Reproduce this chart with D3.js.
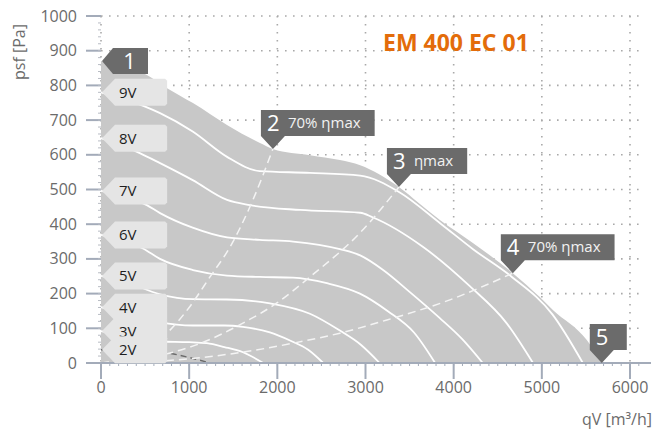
<!DOCTYPE html>
<html>
<head>
<meta charset="utf-8">
<script src="https://cdn.jsdelivr.net/npm/d3@7"></script>
<style>
  html, body { margin: 0; padding: 0; background: #fff; }
  svg { display: block; font-family: "Open Sans", "Noto Sans", sans-serif; }
</style>
</head>
<body>
<svg id="chart" width="653" height="432"></svg>
<script>
// Axis ticks
const xTicks = [0, 1000, 2000, 3000, 4000, 5000, 6000];
const yTicks = [0, 100, 200, 300, 400, 500, 600, 700, 800, 900, 1000];

// Operating envelope (max speed), [qV m³/h, psf Pa]
const envelope = [[0,870],[520,830],[750,792],[1043,749],[1429,686],[1803,634],[1950,617],[2370,599],[2710,585],[2940,570],[3150,545],[3379,507],[3600,462],[3844,412],[4218,346],[4671,259],[4977,190],[5125,153],[5510,66],[5680,0]];

// Fan curves per control voltage
const v9 = [[0,780],[480,741],[670,720],[1040,667],[1430,594],[1800,553],[2370,548],[2940,540],[3380,493],[3860,400],[4220,328],[4660,248],[5120,140],[5465,0]];
const v8 = [[0,648],[440,605],[670,576],[1040,527],[1430,470],[1690,455],[2260,441],[2940,433],[3080,420],[3650,335],[4180,222],[4600,115],[4900,0]];
const v7 = [[0,496],[520,455],[670,432],[1040,390],[1430,362],[1800,355],[2180,350],[2710,328],[2940,310],[3200,268],[3500,205],[3840,130],[4100,68],[4330,0]];
const v6 = [[0,369],[476,330],[669,300],[1043,268],[1429,252],[1800,248],[2177,246],[2562,230],[2937,200],[3250,150],[3550,88],[3790,0]];
const v5 = [[0,251],[300,232],[669,198],[1043,184],[1429,183],[1916,172],[2370,142],[2700,95],[2950,52],[3160,0]];
const v4 = [[0,161],[300,142],[669,117],[1043,108],[1400,108],[1610,104],[1916,88],[2150,64],[2350,38],[2520,0]];
const v3 = [[0,92],[350,74],[669,62],[1000,60],[1200,57],[1400,46],[1610,31],[1840,0]];
const v2 = [[0,38],[400,35],[748,29],[1000,16],[1236,0]];

const curveNames = ["9V", "8V", "7V", "6V", "5V", "4V", "3V", "2V"];
const curveData = [v9, v8, v7, v6, v5, v4, v3, v2];

// System lines through the efficiency points
const sys70Low = [[0,0],[400,25],[748,86],[1000,160],[1236,248],[1463,334],[1723,470],[1950,617]];
const sysEtaMax = [[0,0],[669,22],[1122,56],[1610,115],[1995,173],[2370,248],[2937,375],[3379,507]];
const sys70High = [[0,0],[1000,12],[1600,31],[2177,57],[2710,86],[3243,124],[3957,182],[4671,259]];

// Numbered operating points
const pointIds = ["1", "2", "3", "4", "5"];
const pointQ = [0, 1950, 3379, 4671, 5680];
const pointP = [870, 617, 507, 259, 0];
const pointText = ["", "70% ηmax", "ηmax", "70% ηmax", ""];

const title = "EM 400 EC 01";
const yTitle = "psf [Pa]";
const xTitle = "qV [m³/h]";

const svg = d3.select("#chart");
const x = d3.scaleLinear().domain([0, 6000]).range([101, 630]);
const y = d3.scaleLinear().domain([0, 1000]).range([363, 16]);

const axisColor = "#a3abb9";
const textGray = "#6b6b6b";

// Dotted grid
const grid = svg.append("g");
grid.selectAll("line.h").data(yTicks.filter(d => d > 0)).join("line")
  .attr("x1", x(0)).attr("x2", x(6170))
  .attr("y1", d => y(d)).attr("y2", d => y(d))
  .attr("stroke", "#a9a9a9").attr("stroke-width", 1.6)
  .attr("stroke-dasharray", "1.6,6.4");
grid.selectAll("line.v").data(xTicks).join("line")
  .attr("x1", d => x(d)).attr("x2", d => x(d))
  .attr("y1", y(1000)).attr("y2", y(0))
  .attr("stroke", "#a9a9a9").attr("stroke-width", 1.6)
  .attr("stroke-dasharray", "1.6,6.4");

// Gray operating area
const area = d3.area().x(d => x(d[0])).y0(y(0)).y1(d => y(d[1])).curve(d3.curveMonotoneX);
svg.append("path").datum(envelope).attr("d", area).attr("fill", "#c8c8c8");

const line = d3.line().x(d => x(d[0])).y(d => y(d[1])).curve(d3.curveMonotoneX);

// Speed curves
curveData.forEach((pts, i) => {
  const isLowest = curveNames[i] === "2V";
  svg.append("path").datum(pts).attr("d", line)
    .attr("fill", "none")
    .attr("stroke", isLowest ? "#6a6a6a" : "#ffffff")
    .attr("stroke-width", isLowest ? 1.4 : 1.8)
    .attr("stroke-dasharray", isLowest ? "6,4" : null);
});

// System lines
[sys70Low, sysEtaMax, sys70High].forEach(pts => {
  svg.append("path").datum(pts).attr("d", line)
    .attr("fill", "none").attr("stroke", "#f4f4f4")
    .attr("stroke-width", 1.5).attr("stroke-dasharray", "8,5");
});

// Axes
const axes = svg.append("g");
axes.append("line").attr("x1", x(0)).attr("x2", 651).attr("y1", y(0)).attr("y2", y(0))
  .attr("stroke", axisColor).attr("stroke-width", 2);
axes.selectAll("line.xmaj").data(xTicks).join("line")
  .attr("x1", d => x(d)).attr("x2", d => x(d)).attr("y1", y(0)).attr("y2", y(0) + 16)
  .attr("stroke", axisColor).attr("stroke-width", 2);
axes.selectAll("line.xmin").data(d3.range(100, 6200, 100)).join("line")
  .attr("x1", d => x(d)).attr("x2", d => x(d)).attr("y1", y(0)).attr("y2", y(0) + 3)
  .attr("stroke", axisColor).attr("stroke-width", 1);
axes.selectAll("line.ymaj").data(yTicks).join("line")
  .attr("x1", x(0) - 15).attr("x2", x(0)).attr("y1", d => y(d)).attr("y2", d => y(d))
  .attr("stroke", axisColor).attr("stroke-width", 2);
axes.selectAll("line.ymin").data(d3.range(20, 1000, 20)).join("line")
  .attr("x1", x(0) - 3).attr("x2", x(0)).attr("y1", d => y(d)).attr("y2", d => y(d))
  .attr("stroke", "#b8bcc4").attr("stroke-width", 1);

axes.selectAll("text.xl").data(xTicks).join("text")
  .attr("x", d => x(d)).attr("y", y(0) + 30).attr("text-anchor", "middle")
  .attr("font-size", 16).attr("fill", textGray).text(d => d);
axes.selectAll("text.yl").data(yTicks).join("text")
  .attr("x", x(0) - 24).attr("y", d => y(d) + 5.5).attr("text-anchor", "end")
  .attr("font-size", 16).attr("fill", textGray).text(d => d);

svg.append("text").attr("transform", "translate(25,52) rotate(-90)")
  .attr("text-anchor", "middle").attr("font-size", 16).attr("fill", textGray).text(yTitle);
svg.append("text").attr("x", 652).attr("y", 425).attr("text-anchor", "end")
  .attr("font-size", 16).attr("fill", textGray).text(xTitle);

// Voltage tags at the start of each curve
const tagRight = x(750);
const tagH = 27;
curveData.forEach((pts, i) => {
  const tipX = x(0) + 1, cy = y(pts[0][1]);
  const left = tipX + 13, h2 = tagH / 2;
  const poly = [[tipX, cy], [left, cy - h2], [tagRight - 2, cy - h2], [tagRight, cy - h2 + 2],
                [tagRight, cy + h2 - 2], [tagRight - 2, cy + h2], [left, cy + h2]];
  svg.append("polygon").attr("points", poly.map(p => p.join(",")).join(" ")).attr("fill", "#e5e5e5");
  svg.append("text").attr("x", tipX + 17).attr("y", cy + 5.5)
    .attr("font-size", 15).attr("fill", "#1e1e1e").text(curveNames[i]);
});

// Numbered point markers
const markColor = "#6b6b6b";
pointIds.forEach((id, i) => {
  const tx = x(pointQ[i]), ty = y(pointP[i]);
  const g = svg.append("g");
  if (i === 0) {
    // left-pointing tag at the top of the pressure axis
    const tipX = tx + 1, left = tipX + 11, right = 148, h2 = 13;
    const poly = [[tipX, ty], [left, ty - h2], [right, ty - h2], [right, ty + h2], [left, ty + h2]];
    g.append("polygon").attr("points", poly.map(p => p.join(",")).join(" ")).attr("fill", markColor);
    g.append("text").attr("x", (left + right) / 2 - 1).attr("y", ty + 8).attr("text-anchor", "middle")
      .attr("font-size", 22).attr("fill", "#ffffff").text(id);
    return;
  }
  const left = tx - 12, bottom = ty - 13, top = bottom - 26;
  const num = g.append("text").attr("x", left + 6).attr("y", bottom - 5)
    .attr("font-size", 22).attr("fill", "#ffffff").text(id);
  let textEnd = left + 6 + num.node().getComputedTextLength();
  if (pointText[i]) {
    const t = g.append("text").attr("x", left + 27).attr("y", bottom - 8)
      .attr("font-size", 15).attr("fill", "#f2f2f2").text(pointText[i]);
    textEnd = left + 27 + t.node().getComputedTextLength();
  }
  const right = Math.max(left + 37, textEnd + 14);
  const poly = [[left, top], [right, top], [right, bottom], [left + 24, bottom], [tx, ty], [left, bottom]];
  g.insert("polygon", "text").attr("points", poly.map(p => p.join(",")).join(" ")).attr("fill", markColor);
});

// Title
svg.append("text").attr("x", 383).attr("y", 51)
  .attr("font-size", 23).attr("font-weight", "bold").attr("fill", "#e36c0a").text(title);
</script>
</body>
</html>
